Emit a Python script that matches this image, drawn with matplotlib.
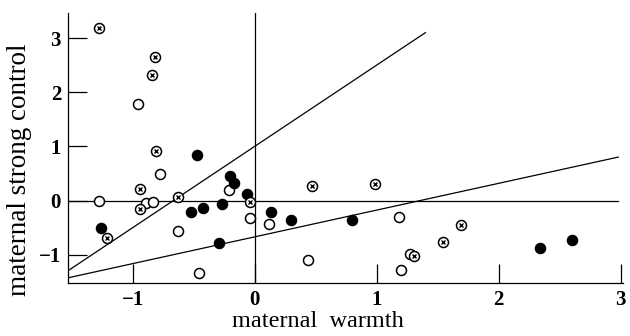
import matplotlib
matplotlib.use("Agg")
import matplotlib.pyplot as plt
import numpy as np

# data: (maternal warmth, maternal strong control)
open_x = [-0.96, -0.78, -1.28, -0.89, -0.83, -0.63, -0.46, -0.21, -0.035, 0.12, 0.44, 1.18, 1.27, 1.20]
open_y = [1.79, 0.49, -0.01, -0.05, -0.02, -0.56, -1.33, 0.19, -0.32, -0.44, -1.10, -0.30, -0.98, -1.28]

filled_x = [-0.47, -0.42, -0.52, -1.26, -0.20, -0.17, -0.06, -0.27, 0.13, 0.30, -0.29, 0.80, 2.34, 2.60]
filled_y = [0.85, -0.13, -0.21, -0.50, 0.45, 0.32, 0.13, -0.07, -0.22, -0.35, -0.78, -0.36, -0.88, -0.73]

cross_x = [-1.28, -0.82, -0.84, -0.81, -0.94, -0.94, -0.625, -1.21, -0.035, 0.47, 0.99, 1.69, 1.54, 1.31]
cross_y = [3.18, 2.65, 2.32, 0.92, 0.21, -0.15, 0.07, -0.69, -0.03, 0.27, 0.31, -0.45, -0.76, -1.02]

# reference lines: intercept, slope, x-range
steep_line = (1.0, 1.5, -1.53, 1.40)
shallow_line = (-0.67, 0.494, -1.53, 2.98)
flat_line = (0.0, 0.0, -1.53, 2.98)

x_ticks = [-1, 0, 1, 2, 3]
y_ticks = [-1, 0, 1, 2, 3]
x_ticklabels = ["\u22121", "0", "1", "2", "3"]
y_ticklabels = ["\u22121", "0", "1", "2", "3"]

plt.rcParams['font.family'] = ['Liberation Serif', 'DejaVu Serif']

fig = plt.figure(figsize=(6.3, 3.36), dpi=100)
ax = fig.add_axes([0.108, 0.158, 0.881, 0.803])
ax.set_xlim(-1.53, 3.02)
ax.set_ylim(-1.52, 3.46)

lw = 0.9
for b, m, x0, x1 in (steep_line, shallow_line, flat_line):
    xs = np.array([x0, x1])
    ax.plot(xs, b + m * xs, color='black', lw=lw, zorder=2)
ax.axvline(0, color='black', lw=lw, zorder=2)

ms = 7.2
ax.plot(open_x, open_y, 'o', ms=ms, mfc='white', mec='black', mew=1.1, ls='none', zorder=3)
ax.plot(filled_x, filled_y, 'o', ms=ms, mfc='black', mec='black', mew=1.1, ls='none', zorder=3)
ax.plot(cross_x, cross_y, 'o', ms=ms, mfc='white', mec='black', mew=1.1, ls='none', zorder=3)
ax.plot(cross_x, cross_y, 'x', ms=3.2, mec='black', mew=1.0, ls='none', zorder=4)

for s in ('top', 'right'):
    ax.spines[s].set_visible(False)
for s in ('left', 'bottom'):
    ax.spines[s].set_linewidth(lw)

ax.set_xticks(x_ticks)
ax.set_xticklabels(x_ticklabels)
ax.set_yticks(y_ticks)
ax.set_yticklabels(y_ticklabels)
ax.tick_params(direction='in', length=14, width=lw, labelsize=15, pad=5)
for lab in ax.get_xticklabels() + ax.get_yticklabels():
    lab.set_fontweight('bold')

ax.set_xlabel("maternal  warmth", fontsize=17.5)
ax.set_ylabel("maternal strong control", fontsize=19.5)
ax.xaxis.set_label_coords(0.45, -0.105)
ax.yaxis.set_label_coords(-0.065, 0.42)

fig.savefig("out.png", dpi=100)
